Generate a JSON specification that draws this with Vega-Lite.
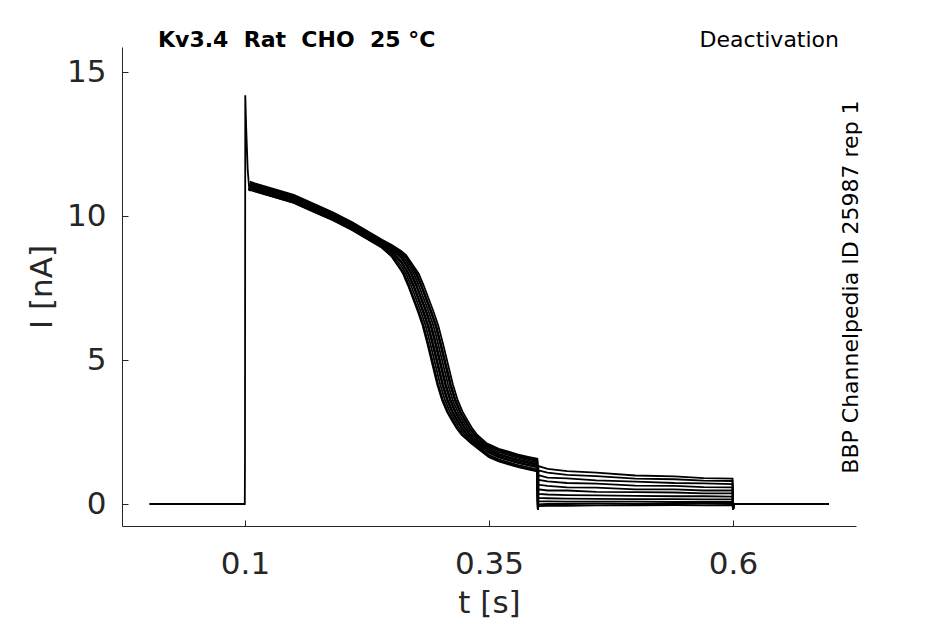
{
  "$schema": "https://vega.github.io/schema/vega-lite/v6.json",
  "width": 734,
  "height": 479,
  "autosize": "none",
  "padding": {"left": 122, "top": 47, "right": 89, "bottom": 98},
  "background": "white",
  "config": {
    "font": "DejaVu Sans",
    "view": {"stroke": null},
    "axis": {
      "grid": false,
      "domainColor": "#262626",
      "tickColor": "#262626",
      "labelColor": "#262626",
      "titleColor": "#262626",
      "labelFont": "DejaVu Sans",
      "titleFont": "DejaVu Sans",
      "labelFontSize": 31,
      "titleFontSize": 31,
      "titleFontWeight": "normal",
      "tickSize": -6,
      "domainWidth": 1,
      "tickWidth": 1
    }
  },
  "datasets": {
    "traces": [
      {"k":6,"t":0.002,"i":0},{"k":6,"t":0.0998,"i":0},{"k":6,"t":0.1,"i":1.5},{"k":6,"t":0.1003,"i":14.2},{"k":6,"t":0.1012,"i":13.1},{"k":6,"t":0.1028,"i":11.6},{"k":6,"t":0.1045,"i":10.9},
      {"k":6,"t":0.106,"i":11.05},{"k":6,"t":0.11,"i":11.0},{"k":6,"t":0.13,"i":10.8},{"k":6,"t":0.15,"i":10.6},{"k":6,"t":0.17,"i":10.3},{"k":6,"t":0.19,"i":10.0},{"k":6,"t":0.21,"i":9.65},{"k":6,"t":0.23,"i":9.25},{"k":6,"t":0.24,"i":9.05},
      {"k":6,"t":0.25,"i":8.85},{"k":6,"t":0.26,"i":8.55},{"k":6,"t":0.265,"i":8.3},
      {"k":6,"t":0.27,"i":8.0},{"k":6,"t":0.275,"i":7.6},{"k":6,"t":0.28,"i":7.15},{"k":6,"t":0.285,"i":6.7},{"k":6,"t":0.29,"i":6.2},{"k":6,"t":0.295,"i":5.55},{"k":6,"t":0.30,"i":4.85},{"k":6,"t":0.305,"i":4.15},{"k":6,"t":0.31,"i":3.6},{"k":6,"t":0.315,"i":3.2},{"k":6,"t":0.32,"i":2.9},{"k":6,"t":0.325,"i":2.62},{"k":6,"t":0.33,"i":2.4},{"k":6,"t":0.34,"i":2.1},
      {"k":6,"t":0.35,"i":1.85},{"k":6,"t":0.36,"i":1.7},{"k":6,"t":0.37,"i":1.6},{"k":6,"t":0.38,"i":1.5},{"k":6,"t":0.39,"i":1.42},{"k":6,"t":0.3995,"i":1.35},
      {"k":6,"t":0.4001,"i":-0.2},
      {"k":6,"t":0.4006,"i":0.35},{"k":6,"t":0.41,"i":0.33},{"k":6,"t":0.43,"i":0.31},{"k":6,"t":0.46,"i":0.30},{"k":6,"t":0.5,"i":0.28},{"k":6,"t":0.54,"i":0.27},{"k":6,"t":0.57,"i":0.27},{"k":6,"t":0.5995,"i":0.26},
      {"k":6,"t":0.6001,"i":-0.2},{"k":6,"t":0.6006,"i":0},{"k":6,"t":0.698,"i":0},

      {"k":0,"t":0.1045,"i":10.9},
      {"k":0,"t":0.106,"i":11.19},{"k":0,"t":0.11,"i":11.14},{"k":0,"t":0.13,"i":10.94},{"k":0,"t":0.15,"i":10.74},{"k":0,"t":0.17,"i":10.44},{"k":0,"t":0.19,"i":10.14},{"k":0,"t":0.21,"i":9.79},{"k":0,"t":0.23,"i":9.39},{"k":0,"t":0.24,"i":9.19},
      {"k":0,"t":0.25,"i":9.01},{"k":0,"t":0.26,"i":8.79},{"k":0,"t":0.265,"i":8.65},
      {"k":0,"t":0.278,"i":8.0},{"k":0,"t":0.283,"i":7.6},{"k":0,"t":0.288,"i":7.15},{"k":0,"t":0.293,"i":6.7},{"k":0,"t":0.298,"i":6.2},{"k":0,"t":0.303,"i":5.55},{"k":0,"t":0.308,"i":4.85},{"k":0,"t":0.313,"i":4.15},{"k":0,"t":0.318,"i":3.6},{"k":0,"t":0.323,"i":3.2},{"k":0,"t":0.328,"i":2.9},{"k":0,"t":0.333,"i":2.62},{"k":0,"t":0.338,"i":2.4},{"k":0,"t":0.348,"i":2.1},
      {"k":0,"t":0.35,"i":2.07},{"k":0,"t":0.36,"i":1.92},{"k":0,"t":0.37,"i":1.82},{"k":0,"t":0.38,"i":1.72},{"k":0,"t":0.39,"i":1.64},{"k":0,"t":0.3995,"i":1.57},
      {"k":0,"t":0.4001,"i":-0.2},
      {"k":0,"t":0.4006,"i":1.32},{"k":0,"t":0.41,"i":1.22},{"k":0,"t":0.43,"i":1.14},{"k":0,"t":0.46,"i":1.09},{"k":0,"t":0.5,"i":0.99},{"k":0,"t":0.54,"i":0.96},{"k":0,"t":0.57,"i":0.90},{"k":0,"t":0.5995,"i":0.88},
      {"k":0,"t":0.6001,"i":-0.2},{"k":0,"t":0.6006,"i":0},{"k":0,"t":0.698,"i":0},

      {"k":1,"t":0.1045,"i":10.9},
      {"k":1,"t":0.106,"i":10.92},{"k":1,"t":0.11,"i":10.87},{"k":1,"t":0.13,"i":10.67},{"k":1,"t":0.15,"i":10.47},{"k":1,"t":0.17,"i":10.17},{"k":1,"t":0.19,"i":9.87},{"k":1,"t":0.21,"i":9.52},{"k":1,"t":0.23,"i":9.12},{"k":1,"t":0.24,"i":8.92},
      {"k":1,"t":0.25,"i":8.64},{"k":1,"t":0.26,"i":8.17},
      {"k":1,"t":0.263,"i":8.0},{"k":1,"t":0.268,"i":7.6},{"k":1,"t":0.273,"i":7.15},{"k":1,"t":0.278,"i":6.7},{"k":1,"t":0.283,"i":6.2},{"k":1,"t":0.288,"i":5.55},{"k":1,"t":0.293,"i":4.85},{"k":1,"t":0.298,"i":4.15},{"k":1,"t":0.303,"i":3.6},{"k":1,"t":0.308,"i":3.2},{"k":1,"t":0.313,"i":2.9},{"k":1,"t":0.318,"i":2.62},{"k":1,"t":0.323,"i":2.4},{"k":1,"t":0.333,"i":2.1},
      {"k":1,"t":0.35,"i":1.65},{"k":1,"t":0.36,"i":1.5},{"k":1,"t":0.37,"i":1.4},{"k":1,"t":0.38,"i":1.3},{"k":1,"t":0.39,"i":1.22},{"k":1,"t":0.3995,"i":1.15},
      {"k":1,"t":0.4001,"i":-0.2},
      {"k":1,"t":0.4006,"i":1.17},{"k":1,"t":0.41,"i":1.09},{"k":1,"t":0.43,"i":1.01},{"k":1,"t":0.46,"i":0.97},{"k":1,"t":0.5,"i":0.88},{"k":1,"t":0.54,"i":0.86},{"k":1,"t":0.57,"i":0.81},{"k":1,"t":0.5995,"i":0.80},
      {"k":1,"t":0.6001,"i":-0.2},{"k":1,"t":0.6006,"i":0},{"k":1,"t":0.698,"i":0},

      {"k":2,"t":0.1045,"i":10.9},
      {"k":2,"t":0.106,"i":11.1},{"k":2,"t":0.11,"i":11.05},{"k":2,"t":0.13,"i":10.85},{"k":2,"t":0.15,"i":10.65},{"k":2,"t":0.17,"i":10.35},{"k":2,"t":0.19,"i":10.05},{"k":2,"t":0.21,"i":9.7},{"k":2,"t":0.23,"i":9.3},{"k":2,"t":0.24,"i":9.1},
      {"k":2,"t":0.25,"i":8.91},{"k":2,"t":0.26,"i":8.64},{"k":2,"t":0.265,"i":8.45},
      {"k":2,"t":0.273,"i":8.0},{"k":2,"t":0.278,"i":7.6},{"k":2,"t":0.283,"i":7.15},{"k":2,"t":0.288,"i":6.7},{"k":2,"t":0.293,"i":6.2},{"k":2,"t":0.298,"i":5.55},{"k":2,"t":0.303,"i":4.85},{"k":2,"t":0.308,"i":4.15},{"k":2,"t":0.313,"i":3.6},{"k":2,"t":0.318,"i":3.2},{"k":2,"t":0.323,"i":2.9},{"k":2,"t":0.328,"i":2.62},{"k":2,"t":0.333,"i":2.4},{"k":2,"t":0.343,"i":2.1},
      {"k":2,"t":0.35,"i":1.95},{"k":2,"t":0.36,"i":1.8},{"k":2,"t":0.37,"i":1.7},{"k":2,"t":0.38,"i":1.6},{"k":2,"t":0.39,"i":1.52},{"k":2,"t":0.3995,"i":1.45},
      {"k":2,"t":0.4001,"i":-0.2},
      {"k":2,"t":0.4006,"i":1.0},{"k":2,"t":0.41,"i":0.92},{"k":2,"t":0.43,"i":0.89},{"k":2,"t":0.46,"i":0.82},{"k":2,"t":0.5,"i":0.78},{"k":2,"t":0.54,"i":0.73},{"k":2,"t":0.57,"i":0.72},{"k":2,"t":0.5995,"i":0.69},
      {"k":2,"t":0.6001,"i":-0.2},{"k":2,"t":0.6006,"i":0},{"k":2,"t":0.698,"i":0},

      {"k":3,"t":0.1045,"i":10.9},
      {"k":3,"t":0.106,"i":11.0},{"k":3,"t":0.11,"i":10.95},{"k":3,"t":0.13,"i":10.75},{"k":3,"t":0.15,"i":10.55},{"k":3,"t":0.17,"i":10.25},{"k":3,"t":0.19,"i":9.95},{"k":3,"t":0.21,"i":9.6},{"k":3,"t":0.23,"i":9.2},{"k":3,"t":0.24,"i":9.0},
      {"k":3,"t":0.25,"i":8.76},{"k":3,"t":0.26,"i":8.39},{"k":3,"t":0.265,"i":8.12},
      {"k":3,"t":0.267,"i":8.0},{"k":3,"t":0.272,"i":7.6},{"k":3,"t":0.277,"i":7.15},{"k":3,"t":0.282,"i":6.7},{"k":3,"t":0.287,"i":6.2},{"k":3,"t":0.292,"i":5.55},{"k":3,"t":0.297,"i":4.85},{"k":3,"t":0.302,"i":4.15},{"k":3,"t":0.307,"i":3.6},{"k":3,"t":0.312,"i":3.2},{"k":3,"t":0.317,"i":2.9},{"k":3,"t":0.322,"i":2.62},{"k":3,"t":0.327,"i":2.4},{"k":3,"t":0.337,"i":2.1},
      {"k":3,"t":0.35,"i":1.77},{"k":3,"t":0.36,"i":1.62},{"k":3,"t":0.37,"i":1.52},{"k":3,"t":0.38,"i":1.42},{"k":3,"t":0.39,"i":1.34},{"k":3,"t":0.3995,"i":1.27},
      {"k":3,"t":0.4001,"i":-0.2},
      {"k":3,"t":0.4006,"i":0.84},{"k":3,"t":0.41,"i":0.79},{"k":3,"t":0.43,"i":0.73},{"k":3,"t":0.46,"i":0.71},{"k":3,"t":0.5,"i":0.64},{"k":3,"t":0.54,"i":0.63},{"k":3,"t":0.57,"i":0.59},{"k":3,"t":0.5995,"i":0.58},
      {"k":3,"t":0.6001,"i":-0.2},{"k":3,"t":0.6006,"i":0},{"k":3,"t":0.698,"i":0},

      {"k":4,"t":0.1045,"i":10.9},
      {"k":4,"t":0.106,"i":11.14},{"k":4,"t":0.11,"i":11.09},{"k":4,"t":0.13,"i":10.89},{"k":4,"t":0.15,"i":10.69},{"k":4,"t":0.17,"i":10.39},{"k":4,"t":0.19,"i":10.09},{"k":4,"t":0.21,"i":9.74},{"k":4,"t":0.23,"i":9.34},{"k":4,"t":0.24,"i":9.14},
      {"k":4,"t":0.25,"i":8.95},{"k":4,"t":0.26,"i":8.7},{"k":4,"t":0.265,"i":8.55},
      {"k":4,"t":0.275,"i":8.0},{"k":4,"t":0.28,"i":7.6},{"k":4,"t":0.285,"i":7.15},{"k":4,"t":0.29,"i":6.7},{"k":4,"t":0.295,"i":6.2},{"k":4,"t":0.30,"i":5.55},{"k":4,"t":0.305,"i":4.85},{"k":4,"t":0.31,"i":4.15},{"k":4,"t":0.315,"i":3.6},{"k":4,"t":0.32,"i":3.2},{"k":4,"t":0.325,"i":2.9},{"k":4,"t":0.33,"i":2.62},{"k":4,"t":0.335,"i":2.4},{"k":4,"t":0.345,"i":2.1},
      {"k":4,"t":0.35,"i":2.0},{"k":4,"t":0.36,"i":1.85},{"k":4,"t":0.37,"i":1.75},{"k":4,"t":0.38,"i":1.65},{"k":4,"t":0.39,"i":1.57},{"k":4,"t":0.3995,"i":1.5},
      {"k":4,"t":0.4001,"i":-0.2},
      {"k":4,"t":0.4006,"i":0.67},{"k":4,"t":0.41,"i":0.63},{"k":4,"t":0.43,"i":0.58},{"k":4,"t":0.46,"i":0.57},{"k":4,"t":0.5,"i":0.51},{"k":4,"t":0.54,"i":0.51},{"k":4,"t":0.57,"i":0.47},{"k":4,"t":0.5995,"i":0.47},
      {"k":4,"t":0.6001,"i":-0.2},{"k":4,"t":0.6006,"i":0},{"k":4,"t":0.698,"i":0},

      {"k":5,"t":0.1045,"i":10.9},
      {"k":5,"t":0.106,"i":10.91},{"k":5,"t":0.11,"i":10.86},{"k":5,"t":0.13,"i":10.66},{"k":5,"t":0.15,"i":10.46},{"k":5,"t":0.17,"i":10.16},{"k":5,"t":0.19,"i":9.86},{"k":5,"t":0.21,"i":9.51},{"k":5,"t":0.23,"i":9.11},{"k":5,"t":0.24,"i":8.91},
      {"k":5,"t":0.25,"i":8.61},{"k":5,"t":0.26,"i":8.11},
      {"k":5,"t":0.262,"i":8.0},{"k":5,"t":0.267,"i":7.6},{"k":5,"t":0.272,"i":7.15},{"k":5,"t":0.277,"i":6.7},{"k":5,"t":0.282,"i":6.2},{"k":5,"t":0.287,"i":5.55},{"k":5,"t":0.292,"i":4.85},{"k":5,"t":0.297,"i":4.15},{"k":5,"t":0.302,"i":3.6},{"k":5,"t":0.307,"i":3.2},{"k":5,"t":0.312,"i":2.9},{"k":5,"t":0.317,"i":2.62},{"k":5,"t":0.322,"i":2.4},{"k":5,"t":0.332,"i":2.1},
      {"k":5,"t":0.35,"i":1.63},{"k":5,"t":0.36,"i":1.48},{"k":5,"t":0.37,"i":1.38},{"k":5,"t":0.38,"i":1.28},{"k":5,"t":0.39,"i":1.2},{"k":5,"t":0.3995,"i":1.13},
      {"k":5,"t":0.4001,"i":-0.2},
      {"k":5,"t":0.4006,"i":0.51},{"k":5,"t":0.41,"i":0.47},{"k":5,"t":0.43,"i":0.47},{"k":5,"t":0.46,"i":0.42},{"k":5,"t":0.5,"i":0.41},{"k":5,"t":0.54,"i":0.40},{"k":5,"t":0.57,"i":0.37},{"k":5,"t":0.5995,"i":0.37},
      {"k":5,"t":0.6001,"i":-0.2},{"k":5,"t":0.6006,"i":0},{"k":5,"t":0.698,"i":0},

      {"k":7,"t":0.1045,"i":10.9},
      {"k":7,"t":0.106,"i":11.07},{"k":7,"t":0.11,"i":11.02},{"k":7,"t":0.13,"i":10.82},{"k":7,"t":0.15,"i":10.62},{"k":7,"t":0.17,"i":10.32},{"k":7,"t":0.19,"i":10.02},{"k":7,"t":0.21,"i":9.67},{"k":7,"t":0.23,"i":9.27},{"k":7,"t":0.24,"i":9.07},
      {"k":7,"t":0.25,"i":8.87},{"k":7,"t":0.26,"i":8.58},{"k":7,"t":0.265,"i":8.35},
      {"k":7,"t":0.271,"i":8.0},{"k":7,"t":0.276,"i":7.6},{"k":7,"t":0.281,"i":7.15},{"k":7,"t":0.286,"i":6.7},{"k":7,"t":0.291,"i":6.2},{"k":7,"t":0.296,"i":5.55},{"k":7,"t":0.301,"i":4.85},{"k":7,"t":0.306,"i":4.15},{"k":7,"t":0.311,"i":3.6},{"k":7,"t":0.316,"i":3.2},{"k":7,"t":0.321,"i":2.9},{"k":7,"t":0.326,"i":2.62},{"k":7,"t":0.331,"i":2.4},{"k":7,"t":0.341,"i":2.1},
      {"k":7,"t":0.35,"i":1.89},{"k":7,"t":0.36,"i":1.74},{"k":7,"t":0.37,"i":1.64},{"k":7,"t":0.38,"i":1.54},{"k":7,"t":0.39,"i":1.46},{"k":7,"t":0.3995,"i":1.39},
      {"k":7,"t":0.4001,"i":-0.2},
      {"k":7,"t":0.4006,"i":0.21},{"k":7,"t":0.41,"i":0.20},{"k":7,"t":0.43,"i":0.19},{"k":7,"t":0.46,"i":0.18},{"k":7,"t":0.5,"i":0.17},{"k":7,"t":0.54,"i":0.17},{"k":7,"t":0.57,"i":0.16},{"k":7,"t":0.5995,"i":0.16},
      {"k":7,"t":0.6001,"i":-0.2},{"k":7,"t":0.6006,"i":0},{"k":7,"t":0.698,"i":0},

      {"k":8,"t":0.1045,"i":10.9},
      {"k":8,"t":0.106,"i":10.96},{"k":8,"t":0.11,"i":10.91},{"k":8,"t":0.13,"i":10.71},{"k":8,"t":0.15,"i":10.51},{"k":8,"t":0.17,"i":10.21},{"k":8,"t":0.19,"i":9.91},{"k":8,"t":0.21,"i":9.56},{"k":8,"t":0.23,"i":9.16},{"k":8,"t":0.24,"i":8.96},
      {"k":8,"t":0.25,"i":8.7},{"k":8,"t":0.26,"i":8.28},
      {"k":8,"t":0.265,"i":8.0},{"k":8,"t":0.27,"i":7.6},{"k":8,"t":0.275,"i":7.15},{"k":8,"t":0.28,"i":6.7},{"k":8,"t":0.285,"i":6.2},{"k":8,"t":0.29,"i":5.55},{"k":8,"t":0.295,"i":4.85},{"k":8,"t":0.30,"i":4.15},{"k":8,"t":0.305,"i":3.6},{"k":8,"t":0.31,"i":3.2},{"k":8,"t":0.315,"i":2.9},{"k":8,"t":0.32,"i":2.62},{"k":8,"t":0.325,"i":2.4},{"k":8,"t":0.335,"i":2.1},
      {"k":8,"t":0.35,"i":1.7},{"k":8,"t":0.36,"i":1.55},{"k":8,"t":0.37,"i":1.45},{"k":8,"t":0.38,"i":1.35},{"k":8,"t":0.39,"i":1.27},{"k":8,"t":0.3995,"i":1.2},
      {"k":8,"t":0.4001,"i":-0.2},
      {"k":8,"t":0.4006,"i":0.09},{"k":8,"t":0.41,"i":0.09},{"k":8,"t":0.43,"i":0.08},{"k":8,"t":0.46,"i":0.08},{"k":8,"t":0.5,"i":0.08},{"k":8,"t":0.54,"i":0.07},{"k":8,"t":0.57,"i":0.07},{"k":8,"t":0.5995,"i":0.07},
      {"k":8,"t":0.6001,"i":-0.2},{"k":8,"t":0.6006,"i":0},{"k":8,"t":0.698,"i":0},

      {"k":9,"t":0.1045,"i":10.9},
      {"k":9,"t":0.106,"i":11.16},{"k":9,"t":0.11,"i":11.11},{"k":9,"t":0.13,"i":10.91},{"k":9,"t":0.15,"i":10.71},{"k":9,"t":0.17,"i":10.41},{"k":9,"t":0.19,"i":10.11},{"k":9,"t":0.21,"i":9.76},{"k":9,"t":0.23,"i":9.36},{"k":9,"t":0.24,"i":9.16},
      {"k":9,"t":0.25,"i":8.97},{"k":9,"t":0.26,"i":8.73},{"k":9,"t":0.265,"i":8.58},
      {"k":9,"t":0.276,"i":8.0},{"k":9,"t":0.281,"i":7.6},{"k":9,"t":0.286,"i":7.15},{"k":9,"t":0.291,"i":6.7},{"k":9,"t":0.296,"i":6.2},{"k":9,"t":0.301,"i":5.55},{"k":9,"t":0.306,"i":4.85},{"k":9,"t":0.311,"i":4.15},{"k":9,"t":0.316,"i":3.6},{"k":9,"t":0.321,"i":3.2},{"k":9,"t":0.326,"i":2.9},{"k":9,"t":0.331,"i":2.62},{"k":9,"t":0.336,"i":2.4},{"k":9,"t":0.346,"i":2.1},
      {"k":9,"t":0.35,"i":2.03},{"k":9,"t":0.36,"i":1.88},{"k":9,"t":0.37,"i":1.78},{"k":9,"t":0.38,"i":1.68},{"k":9,"t":0.39,"i":1.6},{"k":9,"t":0.3995,"i":1.53},
      {"k":9,"t":0.4001,"i":-0.2},
      {"k":9,"t":0.4006,"i":-0.01},{"k":9,"t":0.41,"i":0},{"k":9,"t":0.43,"i":0},{"k":9,"t":0.46,"i":0.01},{"k":9,"t":0.5,"i":0},{"k":9,"t":0.54,"i":0},{"k":9,"t":0.57,"i":0.01},{"k":9,"t":0.5995,"i":0},
      {"k":9,"t":0.6001,"i":-0.2},{"k":9,"t":0.6006,"i":0},{"k":9,"t":0.698,"i":0},

      {"k":10,"t":0.1045,"i":10.9},
      {"k":10,"t":0.106,"i":11.01},{"k":10,"t":0.11,"i":10.96},{"k":10,"t":0.13,"i":10.76},{"k":10,"t":0.15,"i":10.56},{"k":10,"t":0.17,"i":10.26},{"k":10,"t":0.19,"i":9.96},{"k":10,"t":0.21,"i":9.61},{"k":10,"t":0.23,"i":9.21},{"k":10,"t":0.24,"i":9.01},
      {"k":10,"t":0.25,"i":8.79},{"k":10,"t":0.26,"i":8.44},{"k":10,"t":0.265,"i":8.18},
      {"k":10,"t":0.268,"i":8.0},{"k":10,"t":0.273,"i":7.6},{"k":10,"t":0.278,"i":7.15},{"k":10,"t":0.283,"i":6.7},{"k":10,"t":0.288,"i":6.2},{"k":10,"t":0.293,"i":5.55},{"k":10,"t":0.298,"i":4.85},{"k":10,"t":0.303,"i":4.15},{"k":10,"t":0.308,"i":3.6},{"k":10,"t":0.313,"i":3.2},{"k":10,"t":0.318,"i":2.9},{"k":10,"t":0.323,"i":2.62},{"k":10,"t":0.328,"i":2.4},{"k":10,"t":0.338,"i":2.1},
      {"k":10,"t":0.35,"i":1.8},{"k":10,"t":0.36,"i":1.65},{"k":10,"t":0.37,"i":1.55},{"k":10,"t":0.38,"i":1.45},{"k":10,"t":0.39,"i":1.37},{"k":10,"t":0.3995,"i":1.3},
      {"k":10,"t":0.4001,"i":-0.2},
      {"k":10,"t":0.4006,"i":-0.07},{"k":10,"t":0.41,"i":-0.06},{"k":10,"t":0.43,"i":-0.06},{"k":10,"t":0.46,"i":-0.05},{"k":10,"t":0.5,"i":-0.05},{"k":10,"t":0.54,"i":-0.04},{"k":10,"t":0.57,"i":-0.05},{"k":10,"t":0.5995,"i":-0.04},
      {"k":10,"t":0.6001,"i":-0.2},{"k":10,"t":0.6006,"i":0},{"k":10,"t":0.698,"i":0}
    ]
  },
  "layer": [
    {
      "data": {"name": "traces"},
      "mark": {"type": "line", "color": "black", "strokeWidth": 1.8},
      "encoding": {
        "x": {
          "field": "t",
          "type": "quantitative",
          "scale": {"domain": [-0.026, 0.726], "nice": false, "zero": false},
          "axis": {"values": [0.1, 0.35, 0.6], "format": "~g", "title": "t [s]", "labelPadding": 29, "titlePadding": 9}
        },
        "y": {
          "field": "i",
          "type": "quantitative",
          "scale": {"domain": [-0.764, 15.88], "nice": false, "zero": false},
          "axis": {"values": [0, 5, 10, 15], "title": "I [nA]", "labelPadding": 22, "titlePadding": 8}
        },
        "detail": {"field": "k", "type": "nominal"}
      }
    },
    {
      "data": {"values": [{"text": "Kv3.4\u00a0\u00a0Rat\u00a0\u00a0CHO\u00a0\u00a025\u00a0°C"}]},
      "mark": {"type": "text", "align": "left", "baseline": "alphabetic", "fontSize": 22, "fontWeight": "bold", "color": "black"},
      "encoding": {
        "x": {"datum": 0.0109},
        "y": {"datum": 15.88},
        "text": {"field": "text"}
      }
    },
    {
      "data": {"values": [{"text": "Deactivation"}]},
      "mark": {"type": "text", "align": "right", "baseline": "alphabetic", "fontSize": 22, "color": "black"},
      "encoding": {
        "x": {"datum": 0.7086},
        "y": {"datum": 15.88},
        "text": {"field": "text"}
      }
    },
    {
      "data": {"values": [{"text": "BBP Channelpedia ID 25987 rep 1"}]},
      "mark": {"type": "text", "align": "center", "baseline": "middle", "angle": 270, "fontSize": 22, "color": "black"},
      "encoding": {
        "x": {"datum": 0.7205},
        "y": {"datum": 7.54},
        "text": {"field": "text"}
      }
    }
  ]
}
